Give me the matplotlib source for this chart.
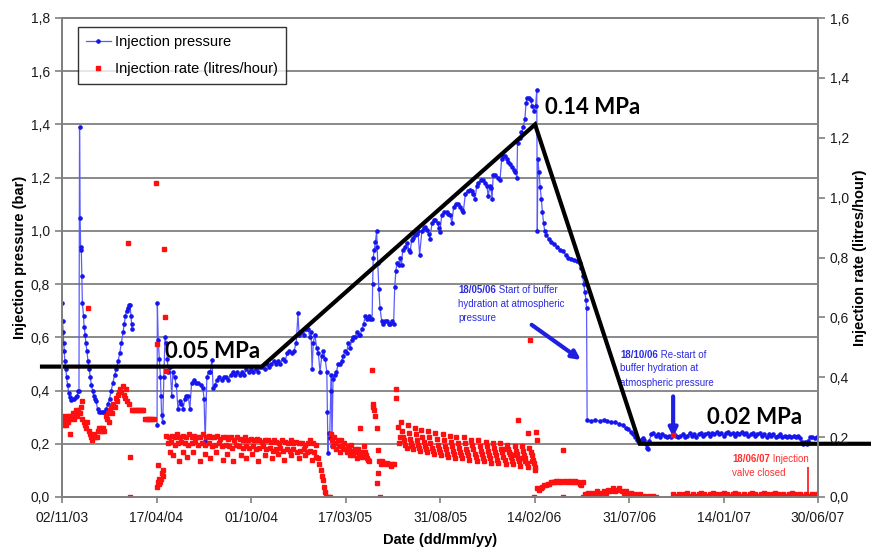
import numpy as np
import matplotlib.pyplot as plt

plt.rcParams['font.family'] = ['Liberation Sans', 'DejaVu Sans']

nan = np.nan

# x axis is days since 02/11/03
tick_days = [0, 167, 334, 501, 668, 835, 1002, 1169, 1336]
tick_labels = ['02/11/03', '17/04/04', '01/10/04', '17/03/05', '31/08/05',
               '14/02/06', '31/07/06', '14/01/07', '30/06/07']
p_ticks = [0.0, 0.2, 0.4, 0.6, 0.8, 1.0, 1.2, 1.4, 1.6, 1.8]
p_ticklabels = ['0,0', '0,2', '0,4', '0,6', '0,8', '1,0', '1,2', '1,4', '1,6', '1,8']
r_ticks = [0.0, 0.2, 0.4, 0.6, 0.8, 1.0, 1.2, 1.4, 1.6]
r_ticklabels = ['0,0', '0,2', '0,4', '0,6', '0,8', '1,0', '1,2', '1,4', '1,6']

# Injection pressure (bar)
p_day = [0, 1, 2, 3, 4, 5, 7, 8, 10, 12, 14, 16, 18, 21, 24, 27, 29, 30, 31, 32,
         33, 34, 35, 36, 38, 39, 41, 42, 44, 46, 48, 50, 52, 54, 56, 58, 60, 63, 66, 69,
         72, 75, 78, 81, 84, 87, 90, 93, 96, 99, 102, 105, 108, 110, 112, 114, 116, 118, 120, 122,
         123, 124, 145,
         168, 168.5, 170, 172, 174, 175, 176, 178, 180, 182, 184, 186, 188, 191, 194, 196, 199, 202, 205, 208,
         211, 214, 217, 220, 223, 226, 229, 233, 237, 241, 245, 249, 251, 253, 256, 259, 262, 265, 267, 270,
         274, 278, 282, 286, 290, 294, 298, 302, 306, 310, 314, 318, 322, 326, 330, 334, 338, 342, 346, 350,
         354, 358, 362, 366, 370, 374, 378, 382, 386, 390, 394, 398, 402, 406, 410, 414, 417, 419, 423, 427,
         431, 435, 438, 440, 442, 444, 447, 450, 453, 456, 459, 462, 465, 468, 469, 470, 471, 473, 475, 476,
         477, 479, 482, 485, 488, 491, 494, 497, 500, 503, 506, 509, 512, 515, 518, 521, 524, 527, 530, 533,
         536, 539, 542, 545, 548, 549, 550, 552, 554, 556, 557, 558, 560, 562, 565, 568, 571, 574, 577, 580,
         583, 586, 588, 590, 592, 595, 597, 600, 602, 606, 610, 613, 615, 618, 621, 624, 627, 629, 632, 636,
         639, 642, 645, 648, 650, 654, 657, 660, 664, 666, 668, 671, 675, 680, 683, 686, 689, 692, 696, 700,
         704, 707, 709, 713, 717, 721, 724, 726, 730, 733, 736, 740, 744, 748, 751, 753, 756, 758, 760, 762,
         766, 770, 774, 777, 780, 783, 786, 789, 792, 795, 798, 801, 804, 805, 809, 812, 815, 818, 820, 822,
         825, 828, 831, 834, 837, 839, 840, 841, 843, 845, 847, 849, 851, 853, 856, 860, 865, 870, 875, 880,
         885, 890, 895, 900, 905, 910, 915, 918, 920, 922, 924, 926, 927, 928,
         935, 942, 950, 957, 964, 971, 978, 985, 991, 996, 1001, 1005, 1009, 1013, 1017, 1020, 1023, 1026, 1029, 1032,
         1034, 1036, 1038, 1041, 1045, 1049, 1053, 1057, 1061, 1065, 1069, 1073, 1077, 1081, 1085, 1089, 1093, 1097, 1101, 1105,
         1109, 1113, 1117, 1121, 1125, 1129, 1133, 1137, 1141, 1145, 1149, 1153, 1157, 1161, 1165, 1169, 1173, 1177, 1181, 1185,
         1189, 1193, 1197, 1201, 1205, 1209, 1213, 1217, 1221, 1225, 1229, 1233, 1237, 1241, 1245, 1249, 1253, 1257, 1261, 1265,
         1269, 1273, 1277, 1281, 1285, 1289, 1293, 1297, 1301, 1305, 1307, 1310, 1313, 1316, 1319, 1322, 1326, 1330, 1334]
p_bar = [0.73, 0.66, 0.62, 0.58, 0.55, 0.51, 0.48, 0.45, 0.42, 0.39, 0.375, 0.365, 0.37, 0.37, 0.375, 0.38, 0.40, 0.40, 1.39, 1.05,
         0.93, 0.94, 0.83, 0.73, 0.68, 0.64, 0.61, 0.58, 0.55, 0.51, 0.48, 0.45, 0.42, 0.40, 0.38, 0.37, 0.36, 0.33, 0.32, 0.32,
         0.32, 0.32, 0.33, 0.35, 0.37, 0.40, 0.43, 0.46, 0.48, 0.51, 0.54, 0.58, 0.62, 0.65, 0.68, 0.70, 0.71, 0.72, 0.72, 0.68,
         0.65, 0.63, nan,
         0.27, 0.73, 0.59, 0.52, 0.45, 0.38, 0.31, 0.28, 0.45, 0.60, 0.58, 0.52, 0.47, 0.49, 0.38, 0.47, 0.45, 0.42, 0.33, 0.36,
         0.35, 0.33, 0.37, 0.38, 0.38, 0.33, 0.43, 0.44, 0.43, 0.43, 0.42, 0.41, 0.37, 0.21, 0.45, 0.47, 0.47, 0.515, 0.41, 0.42,
         0.44, 0.45, 0.44, 0.45, 0.45, 0.44, 0.46, 0.47, 0.46, 0.47, 0.46, 0.47, 0.46, 0.48, 0.47, 0.48, 0.47, 0.48, 0.47, 0.49,
         0.49, 0.48, 0.50, 0.49, 0.50, 0.51, 0.50, 0.51, 0.50, 0.52, 0.51, 0.54, 0.55, 0.54, 0.55, 0.58, 0.69, 0.61, 0.62, 0.61,
         0.63, 0.63, 0.60, 0.62, 0.48, 0.58, 0.61, 0.56, 0.54, 0.47, 0.53, 0.55, 0.52, 0.47, 0.32, 0.165, 0.24, 0.22, 0.40, 0.46,
         0.19, 0.445, 0.46, 0.47, 0.50, 0.50, 0.51, 0.53, 0.55, 0.54, 0.58, 0.56, 0.59, 0.60, 0.60, 0.62, 0.61, 0.61, 0.63, 0.65,
         0.68, 0.67, 0.68, 0.67, 0.67, 0.80, 0.90, 0.93, 0.96, 1.00, 0.94, 0.88, 0.78, 0.71, 0.66, 0.65, 0.66, 0.66, 0.65, 0.65,
         0.66, 0.65, 0.79, 0.85, 0.88, 0.87, 0.90, 0.87, 0.93, 0.94, 0.955, 0.93, 0.92, 0.965, 0.975, 0.985, 0.99, 1.00, 0.91, 1.00,
         1.01, 1.015, 1.005, 0.99, 0.97, 1.03, 1.04, 1.04, 1.03, 1.01, 0.995, 1.06, 1.07, 1.07, 1.065, 1.06, 1.03, 1.09, 1.10, 1.10,
         1.09, 1.08, 1.07, 1.14, 1.15, 1.155, 1.15, 1.14, 1.12, 1.17, 1.18, 1.19, 1.19, 1.18, 1.17, 1.13, 1.17, 1.16, 1.12, 1.21,
         1.21, 1.20, 1.19, 1.27, 1.28, 1.28, 1.27, 1.26, 1.25, 1.24, 1.23, 1.22, 1.20, 1.33, 1.35, 1.37, 1.39, 1.42, 1.48, 1.50,
         1.50, 1.49, 1.47, 1.45, 1.47, 1.53, 1.00, 1.27, 1.22, 1.165, 1.12, 1.07, 1.03, 1.00, 0.985, 0.97, 0.96, 0.95, 0.94, 0.93,
         0.925, 0.91, 0.90, 0.895, 0.89, 0.885, 0.88, 0.86, 0.83, 0.80, 0.77, 0.74, 0.71, 0.29,
         0.285, 0.29, 0.285, 0.29, 0.285, 0.28, 0.28, 0.275, 0.27, 0.26, 0.255, 0.245, 0.235, 0.225, 0.215, 0.205, 0.215, 0.22, 0.215, 0.20,
         0.185, 0.18, 0.21, 0.235, 0.24, 0.23, 0.235, 0.225, 0.235, 0.23, 0.225, 0.23, 0.225, 0.235, 0.23, 0.225, 0.23, 0.235, 0.225, 0.23,
         0.24, 0.23, 0.235, 0.225, 0.235, 0.24, 0.23, 0.235, 0.24, 0.23, 0.24, 0.235, 0.245, 0.235, 0.24, 0.23, 0.24, 0.245, 0.235, 0.24,
         0.23, 0.24, 0.235, 0.245, 0.235, 0.24, 0.23, 0.235, 0.24, 0.23, 0.235, 0.24, 0.23, 0.235, 0.225, 0.235, 0.23, 0.235, 0.225, 0.23,
         0.235, 0.225, 0.23, 0.225, 0.23, 0.225, 0.23, 0.225, 0.23, 0.22, 0.205, 0.20, 0.205, 0.20, 0.21, 0.225, 0.225, 0.22, 0.225]

# Injection rate (litres/hour)
r_day = [0, 1, 2, 3, 4, 5, 6, 7, 8, 9, 10, 11, 12, 14, 15, 17, 19, 21, 23, 25,
         27, 29, 31, 33, 35, 36, 38, 40, 42, 44, 46, 47, 49, 51, 53, 55, 57, 59, 61, 63,
         65, 67, 69, 71, 73, 75, 77, 79, 81, 83, 85, 87, 89, 91, 93, 95, 97, 99, 101, 103,
         105, 107, 109, 111, 113, 115, 117, 118, 120, 121, 123, 126, 129, 132, 135, 138, 141, 144, 147, 150,
         153, 156, 159, 162,
         166, 167, 168, 169, 170, 171, 172, 173, 175, 176, 178, 179, 180, 182, 183,
         184, 189, 194, 199, 204, 209, 214, 219, 224, 229, 234, 239, 244, 249, 254, 259, 264, 269, 274, 279,
         284, 289, 294, 299, 304, 309, 314, 319, 324, 329, 334, 339, 344, 349, 354, 359, 364, 369, 374, 379,
         384, 389, 394, 399, 404, 409, 414, 419, 424, 429, 434, 439, 444, 449,
         187, 193, 199, 205, 211, 217, 223, 229, 235, 241, 247, 253, 259, 265, 271, 277, 283, 289, 295, 301,
         307, 313, 319, 325, 331, 337, 343, 349, 355, 361, 367, 373, 379, 385, 391, 397, 403, 409, 415, 421,
         427, 433, 439, 445,
         190, 196, 206, 214, 221, 232, 243, 252, 261, 272, 284, 292, 303, 316, 326, 336, 347, 358, 371, 381,
         393, 405, 418, 430, 441, 448,
         452, 455, 457, 459, 461, 463, 465, 467, 469, 471, 473,
         475, 477, 479, 481, 483, 485, 487, 489, 491, 493, 495, 497, 499, 501, 503, 505, 507, 509, 511, 513,
         515, 517, 519, 521, 523, 525, 527, 529, 531, 533, 535, 537, 539, 541, 543,
         548, 549, 550, 552, 554, 556, 557, 558, 559, 561, 562, 563, 566, 569, 572, 575, 578, 581, 584, 586,
         590, 591, 593, 595, 597,
         599, 601, 603, 605, 607, 609, 611, 613, 615, 617, 619, 621, 623, 625, 627, 629, 631, 633,
         635, 637, 639, 641, 643, 645, 647, 649, 651, 653, 655, 657, 660, 662, 664, 666, 668, 670,
         673, 675, 677, 679, 681, 683, 685, 687, 689, 691, 693, 695, 697, 699, 701, 703, 705, 707,
         710, 712, 714, 716, 718, 720, 723, 725, 727, 729, 731, 733, 736, 738, 740, 742, 744, 746,
         749, 751, 753, 755, 757, 759, 761, 763, 765, 767, 769, 771, 774, 776, 778, 780, 782, 784,
         787, 789, 791, 793, 795, 797, 800, 802, 804, 806, 808, 810, 813, 815, 817, 819, 821, 823,
         826, 828, 830, 832, 834, 836,
         780, 790, 800, 806, 812, 818, 823, 827, 831, 835, 838, 839, 885, 834,
         840, 843, 846, 849, 852, 855, 858, 861, 864, 867, 870, 873, 876, 879, 882, 885, 888, 891, 894, 897,
         900, 903, 906, 909, 912, 915, 918, 920,
         921, 925, 929, 933, 937, 941, 945, 949, 953, 957, 961, 965, 969, 973, 977, 981, 985, 989, 993, 997,
         1001, 1005, 1009, 1013, 1017, 1021, 1025, 1029, 1033, 1037, 1041, 1045, 1049,
         1080, 1080, 1085, 1090, 1095, 1100, 1105, 1110, 1115, 1120, 1125, 1130, 1135, 1140, 1145, 1150, 1155, 1160, 1165, 1170,
         1175, 1180, 1185, 1190, 1195, 1200, 1205, 1210, 1215, 1220, 1225, 1230, 1235, 1240, 1245, 1250, 1255, 1260, 1265, 1270,
         1275, 1280, 1285, 1290, 1295, 1300, 1305, 1310, 1315, 1320, 1325, 1330, 1335]
r_val = [0.26, 0.27, 0.25, 0.24, 0.26, 0.25, 0.26, 0.24, 0.25, 0.27, 0.26, 0.25, 0.27, 0.21, 0.26, 0.27, 0.28, 0.26, 0.28, 0.29,
         0.27, 0.29, 0.28, 0.30, 0.32, 0.26, 0.25, 0.24, 0.23, 0.25, 0.63, 0.22, 0.21, 0.20, 0.19, 0.20, 0.21, 0.20, 0.20, 0.22,
         0.23, 0.22, 0.23, 0.22, 0.23, 0.22, 0.27, 0.26, 0.28, 0.25, 0.29, 0.30, 0.28, 0.31, 0.30, 0.33, 0.32, 0.34, 0.35, 0.36,
         0.35, 0.37, 0.34, 0.33, 0.36, 0.32, 0.85, 0.31, 0.135, 0.0, 0.29, 0.29, 0.29, 0.29, 0.29, 0.29, 0.29, 0.29, 0.26, 0.26,
         0.26, 0.26, 0.26, 0.26,
         1.05, 0.51, 0.035, 0.107, 0.05, 0.06, 0.045, 0.05, 0.06, 0.08, 0.07, 0.09, 0.83, 0.60, 0.42,
         0.205, 0.20, 0.205, 0.20, 0.21, 0.20, 0.205, 0.20, 0.21, 0.20, 0.205, 0.20, 0.20, 0.21, 0.20, 0.205, 0.20, 0.20, 0.205, 0.195,
         0.20, 0.20, 0.195, 0.20, 0.19, 0.20, 0.195, 0.19, 0.20, 0.19, 0.195, 0.19, 0.195, 0.19, 0.185, 0.19, 0.19, 0.185, 0.19, 0.185,
         0.18, 0.19, 0.185, 0.18, 0.19, 0.18, 0.185, 0.18, 0.18, 0.175, 0.18, 0.19, 0.18, 0.175,
         0.18, 0.185, 0.175, 0.18, 0.185, 0.18, 0.175, 0.18, 0.185, 0.175, 0.18, 0.175, 0.18, 0.17, 0.175, 0.18, 0.17, 0.175, 0.17, 0.165,
         0.175, 0.17, 0.165, 0.17, 0.165, 0.17, 0.16, 0.165, 0.17, 0.16, 0.165, 0.155, 0.16, 0.165, 0.155, 0.16, 0.155, 0.16, 0.15, 0.155,
         0.16, 0.15, 0.155, 0.15,
         0.15, 0.14, 0.12, 0.15, 0.135, 0.15, 0.12, 0.145, 0.13, 0.15, 0.125, 0.145, 0.12, 0.14, 0.13, 0.145, 0.12, 0.14, 0.13, 0.145,
         0.125, 0.14, 0.13, 0.14, 0.125, 0.135,
         0.13, 0.11, 0.09, 0.07, 0.057, 0.035, 0.017, 0.0, 0.0, 0.0, 0.0,
         0.21, 0.19, 0.17, 0.20, 0.18, 0.16, 0.19, 0.17, 0.15, 0.19, 0.17, 0.16, 0.18, 0.16, 0.15, 0.17, 0.16, 0.14, 0.175, 0.155,
         0.14, 0.16, 0.15, 0.13, 0.16, 0.145, 0.23, 0.15, 0.135, 0.17, 0.15, 0.14, 0.13, 0.125, 0.12,
         0.425, 0.31, 0.30, 0.29, 0.27, 0.23, 0.047, 0.08, 0.157, 0.12, 0.0, 0.11, 0.12, 0.115, 0.11, 0.115, 0.11, 0.105, 0.11, 0.11,
         0.36, 0.33, 0.233, 0.18, 0.20,
         0.25, 0.22, 0.20, 0.19, 0.175, 0.165, 0.24, 0.215, 0.195, 0.18, 0.17, 0.16, 0.23, 0.21, 0.19, 0.175, 0.165, 0.155,
         0.225, 0.20, 0.185, 0.17, 0.16, 0.15, 0.22, 0.20, 0.18, 0.165, 0.155, 0.145, 0.215, 0.195, 0.175, 0.16, 0.15, 0.14,
         0.21, 0.19, 0.17, 0.16, 0.145, 0.135, 0.205, 0.185, 0.17, 0.155, 0.145, 0.13, 0.20, 0.18, 0.165, 0.15, 0.14, 0.13,
         0.20, 0.18, 0.16, 0.15, 0.14, 0.125, 0.19, 0.175, 0.16, 0.145, 0.135, 0.12, 0.19, 0.17, 0.155, 0.145, 0.13, 0.12,
         0.185, 0.17, 0.155, 0.14, 0.13, 0.115, 0.18, 0.165, 0.15, 0.14, 0.125, 0.115, 0.18, 0.16, 0.15, 0.135, 0.125, 0.11,
         0.175, 0.16, 0.145, 0.135, 0.12, 0.11, 0.17, 0.155, 0.145, 0.13, 0.12, 0.105, 0.17, 0.155, 0.14, 0.13, 0.115, 0.10,
         0.165, 0.15, 0.14, 0.125, 0.115, 0.10,
         0.16, 0.15, 0.14, 0.257, 0.13, 0.12, 0.213, 0.525, 0.12, 0.09, 0.217, 0.19, 0.157, 0.0,
         0.03, 0.025, 0.03, 0.035, 0.04, 0.04, 0.045, 0.045, 0.05, 0.05, 0.05, 0.055, 0.05, 0.055, 0.05, 0.0, 0.055, 0.05, 0.055, 0.05,
         0.055, 0.05, 0.055, 0.05, 0.05, 0.045, 0.04, 0.0,
         0.05, 0.01, 0.015, 0.01, 0.015, 0.01, 0.02, 0.015, 0.01, 0.02, 0.015, 0.025, 0.02, 0.03, 0.02, 0.025, 0.03, 0.02, 0.015, 0.02,
         0.01, 0.015, 0.005, 0.01, 0.005, 0.01, 0.0, 0.005, 0.0, 0.005, 0.0, 0.005, 0.0,
         0.207, 0.01, 0.005, 0.01, 0.005, 0.01, 0.015, 0.005, 0.01, 0.005, 0.01, 0.015, 0.01, 0.005, 0.01, 0.015, 0.01, 0.005, 0.01, 0.015,
         0.01, 0.005, 0.01, 0.015, 0.01, 0.005, 0.01, 0.005, 0.01, 0.015, 0.01, 0.005, 0.01, 0.015, 0.01, 0.005, 0.01, 0.015, 0.01, 0.005,
         0.01, 0.005, 0.01, 0.015, 0.01, 0.005, 0.01, 0.005, 0.01, 0.005, 0.01, 0.005, 0.01]

# rate spike when the injection valve closed
valve_day = 1318
valve_rate = 0.10

# hand drawn trend line (bar)
trend_day = [-39, 353, 836, 1021, 1431]
trend_bar = [0.49, 0.49, 1.40, 0.20, 0.20]

grid_col = '#808080'

fig = plt.figure(figsize=(8.71, 5.49), dpi=100)
ax = fig.add_axes([62 / 871, 1 - 497 / 549, 756 / 871, 479 / 549])
ax2 = ax.twinx()

ax.set_xlim(0, 1336)
ax.set_ylim(0, 1.8)
ax2.set_ylim(0, 1.6)

for y in p_ticks[1:]:
    ax.axhline(y, color=grid_col, lw=1.3, zorder=0)

l1, = ax.plot(p_day, p_bar, color='#5a5aff', lw=0.9, marker='o', ms=2.3,
              mfc='#1515ee', mec='#1515ee', zorder=2, label='Injection pressure')
l2, = ax2.plot(r_day, r_val, ls='none', marker='s', ms=2.9, color='#ff1010',
               mec='#ff1010', label='Injection rate (litres/hour)')
ax2.vlines(valve_day, 0, valve_rate, color='#ff1010', lw=1.2)

ax.plot(trend_day, trend_bar, color='black', lw=3, clip_on=False, zorder=5,
        solid_capstyle='butt', solid_joinstyle='miter')

# MPa labels
mpa_kw = dict(family=['Lato', 'DejaVu Sans'], fontweight='bold', fontsize=16,
              va='center', ha='left', zorder=6)
ax.text(182, 0.545, '0.05 MPa', **mpa_kw)
ax.text(853, 1.462, '0.14 MPa', **mpa_kw)
ax.text(1140, 0.30, '0.02 MPa', **mpa_kw)

# event notes
blue_t = '#2a2ae0'
b1 = ax.text(700, 0.795, '18/05/06', color=blue_t, fontsize=7, fontweight='bold', va='top', zorder=3)
ax.annotate(' Start of buffer', xy=(1, 0), xycoords=b1, va='bottom', ha='left',
            color=blue_t, fontsize=7, zorder=3)
ax.annotate('hydration at atmospheric\npressure', xy=(0, 0), xycoords=b1, xytext=(0, -2.5),
            textcoords='offset points', va='top', ha='left', color=blue_t, fontsize=7,
            linespacing=1.55, zorder=3)
ax.annotate('', xy=(917, 0.515), xytext=(830, 0.647),
            arrowprops=dict(arrowstyle='-|>,head_length=0.5,head_width=0.25', color='#1f1fe0',
                            lw=3, shrinkA=0, shrinkB=0), zorder=3)

b2 = ax.text(986, 0.553, '18/10/06', color=blue_t, fontsize=7, fontweight='bold', va='top', zorder=3)
ax.annotate(' Re-start of', xy=(1, 0), xycoords=b2, va='bottom', ha='left',
            color=blue_t, fontsize=7, zorder=3)
ax.annotate('buffer hydration at\natmospheric pressure', xy=(0, 0), xycoords=b2, xytext=(0, -2.5),
            textcoords='offset points', va='top', ha='left', color=blue_t, fontsize=7,
            linespacing=1.55, zorder=3,
            bbox=dict(boxstyle='square,pad=0.15', fc='white', ec='none'))
ax.annotate('', xy=(1080, 0.225), xytext=(1080, 0.378),
            arrowprops=dict(arrowstyle='-|>,head_length=0.5,head_width=0.25', color='#1f1fe0',
                            lw=3, shrinkA=0, shrinkB=0), zorder=3)

red_t = '#ff3030'
b3 = ax.text(1184, 0.16, '18/06/07', color=red_t, fontsize=7, fontweight='bold', va='top', zorder=3)
ax.annotate(' Injection', xy=(1, 0), xycoords=b3, va='bottom', ha='left',
            color=red_t, fontsize=7, zorder=3)
ax.annotate('valve closed', xy=(0, 0), xycoords=b3, xytext=(0, -2.5),
            textcoords='offset points', va='top', ha='left', color=red_t, fontsize=7, zorder=3)

# axes styling
ax.set_xticks(tick_days)
ax.set_xticklabels(tick_labels)
ax.set_yticks(p_ticks)
ax.set_yticklabels(p_ticklabels)
ax2.set_yticks(r_ticks)
ax2.set_yticklabels(r_ticklabels)

for a in (ax, ax2):
    for s in a.spines.values():
        s.set_color(grid_col)
        s.set_linewidth(1.3)
    a.tick_params(colors=grid_col, labelcolor='#1a1a1a', labelsize=10, length=5, width=1.2)
ax.tick_params(axis='x', length=4, pad=6)

ax.set_xlabel('Date (dd/mm/yy)', fontsize=10.5, fontweight='bold', labelpad=6)
ax.set_ylabel('Injection pressure (bar)', fontsize=10.5, fontweight='bold', labelpad=3)
ax2.set_ylabel('Injection rate (litres/hour)', fontsize=10.5, fontweight='bold', labelpad=3)

leg = ax2.legend(handles=[l1, l2], loc='upper left', bbox_to_anchor=(0.021, 0.981),
                 borderaxespad=0, fontsize=10.5, frameon=True, fancybox=False,
                 handlelength=1.7, handletextpad=0.3, labelspacing=0.9, borderpad=0.55)
leg.get_frame().set_edgecolor('black')
leg.get_frame().set_linewidth(1.0)

fig.savefig('out.png', dpi=100)
